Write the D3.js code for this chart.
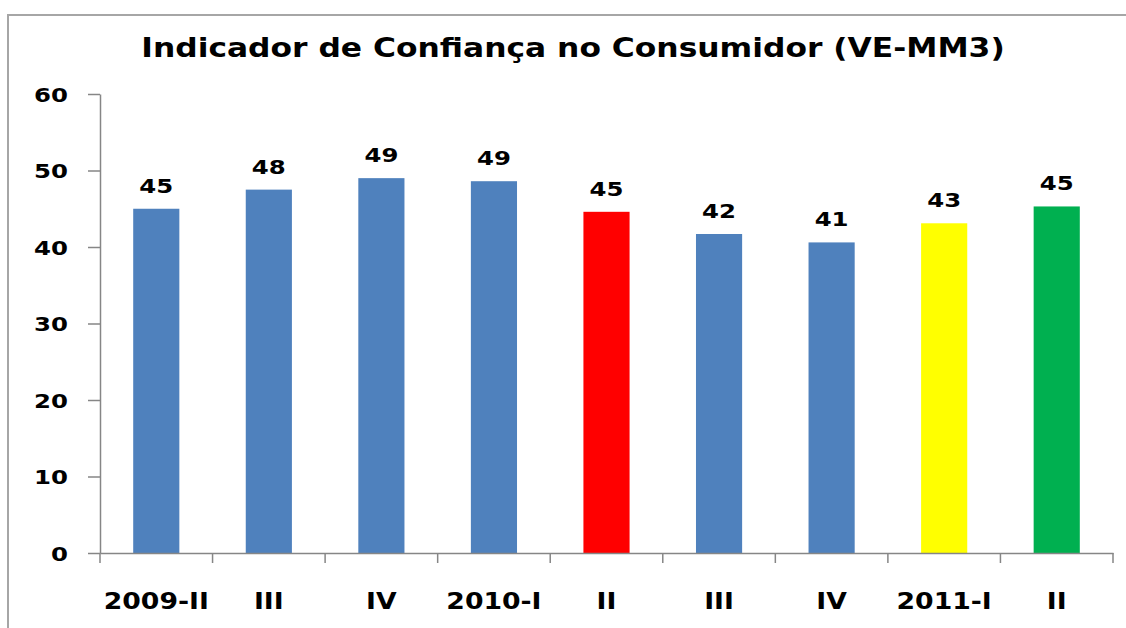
<!DOCTYPE html>
<html>
<head>
<meta charset="utf-8">
<script src="https://cdn.jsdelivr.net/npm/d3@7"></script>
<style>
  body { margin: 0; background: #fff; }
  text { font-family: "DejaVu Sans", Verdana, sans-serif; font-weight: bold; fill: #000; }
</style>
</head>
<body>
<svg id="chart" width="1126" height="628"></svg>
<script>
// data
var categories = ["2009-II", "III", "IV", "2010-I", "II", "III", "IV", "2011-I", "II"];
var values = [45.0, 47.5, 49.0, 48.6, 44.6, 41.7, 40.6, 43.1, 45.3];
var barColors = ["#4f81bd", "#4f81bd", "#4f81bd", "#4f81bd", "#ff0000", "#4f81bd", "#4f81bd", "#ffff00", "#00b050"];
var yTicks = [0, 10, 20, 30, 40, 50, 60];
var title = "Indicador de Confiança no Consumidor (VE-MM3)";

var svg = d3.select("#chart");

// chart area border (only top & left visible in the shot)
svg.append("rect")
    .attr("x", 8).attr("y", 15)
    .attr("width", 1400).attr("height", 900)
    .attr("fill", "none")
    .attr("stroke", "#a6a6a6")
    .attr("stroke-width", 2);

var x = d3.scaleBand()
    .domain(d3.range(categories.length))
    .range([100, 1113])
    .paddingInner(0.59)
    .paddingOuter(0.295);

var y = d3.scaleLinear()
    .domain([0, 60])
    .range([553, 94]);

// title, stretched a bit wide like the original
var t = svg.append("text")
    .attr("text-anchor", "middle")
    .style("font-size", "26px")
    .text(title);
var tw = t.node().getComputedTextLength();
var tsx = 864 / tw;
t.attr("transform", "translate(573,57) scale(" + tsx + ",1)");

// y axis
var sxY = 1.22;
var yAxis = svg.append("g")
    .attr("transform", "translate(100,0)")
    .call(d3.axisLeft(y).tickValues(yTicks).tickSize(12).tickSizeOuter(0));
yAxis.select(".domain").attr("stroke", "#868686").attr("stroke-width", 1.5);
yAxis.selectAll(".tick line").attr("stroke", "#868686").attr("stroke-width", 1.5);
yAxis.selectAll(".tick text")
    .attr("x", -32 / sxY)
    .attr("dy", "0.36em")
    .attr("transform", "scale(" + sxY + ",1)")
    .style("font-size", "20px")
    .style("font-family", "DejaVu Sans")
    .style("font-weight", "bold")
    .attr("fill", "#000");

// bars
svg.append("g").selectAll("rect")
    .data(values)
    .join("rect")
    .attr("x", function(d, i) { return x(i); })
    .attr("y", function(d) { return y(d); })
    .attr("width", x.bandwidth())
    .attr("height", function(d) { return y(0) - y(d); })
    .attr("fill", function(d, i) { return barColors[i]; });

// value labels
var sxV = 1.22;
svg.append("g").selectAll("text")
    .data(values)
    .join("text")
    .attr("text-anchor", "middle")
    .style("font-size", "20px")
    .attr("transform", function(d, i) {
        return "translate(" + (x(i) + x.bandwidth() / 2) + "," + (y(d) - 16) + ") scale(" + sxV + ",1)";
    })
    .text(function(d) { return Math.round(d); });

// x axis: line + boundary ticks + labels
var xAxis = svg.append("g")
    .attr("transform", "translate(0,553)")
    .call(d3.axisBottom(x).tickSize(0).tickSizeOuter(0).tickFormat(function(i) { return categories[i]; }));
xAxis.select(".domain").attr("stroke", "#868686").attr("stroke-width", 1.5);

var sxX = 1.16;
xAxis.selectAll(".tick text")
    .attr("y", 0)
    .attr("dy", 0)
    .attr("transform", "translate(0,56) scale(" + sxX + ",1)")
    .style("font-size", "23px")
    .style("font-family", "DejaVu Sans")
    .style("font-weight", "bold")
    .attr("fill", "#000");

var bounds = d3.range(categories.length + 1).map(function(i) { return x.range()[0] + i * x.step(); });
xAxis.append("g").selectAll("line")
    .data(bounds)
    .join("line")
    .attr("x1", function(d) { return d; })
    .attr("x2", function(d) { return d; })
    .attr("y1", 0)
    .attr("y2", 10)
    .attr("stroke", "#868686")
    .attr("stroke-width", 1.5);
</script>
</body>
</html>
